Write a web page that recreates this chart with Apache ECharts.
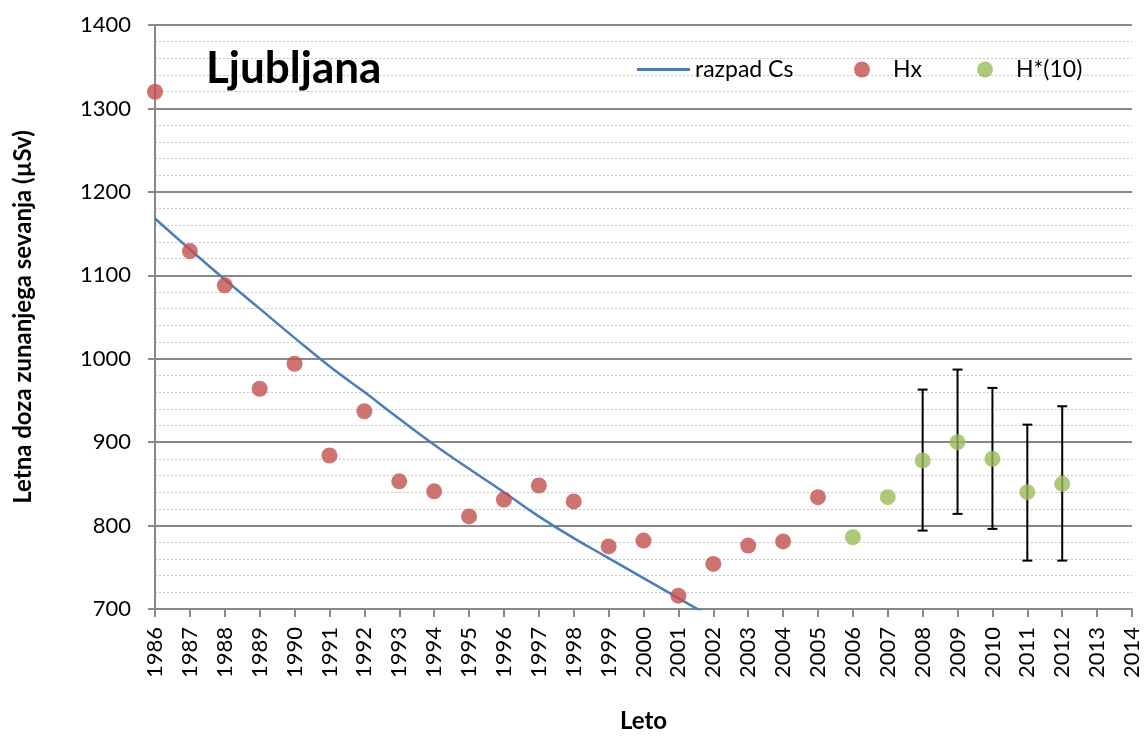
<!DOCTYPE html>
<html>
<head>
<meta charset="utf-8">
<script src="https://cdn.jsdelivr.net/npm/echarts@6/dist/echarts.min.js"></script>
<style>
  html, body { margin: 0; padding: 0; background: #fff; }
  #chart { width: 1145px; height: 738px; }
</style>
</head>
<body>
<div id="chart"></div>
<script>
// years for the decay line (razpad Cs)
var cesYears = [1986, 1987, 1988, 1989, 1990, 1991, 1992, 1993, 1994, 1995, 1996, 1997, 1998, 1999, 2000, 2001, 2002];
var cesValues = [1168, 1131, 1095, 1060, 1025, 991, 960, 928, 897, 868, 840, 811, 785, 761, 737, 713, 689];

// Hx (red points)
var hxYears = [1986, 1987, 1988, 1989, 1990, 1991, 1992, 1993, 1994, 1995, 1996, 1997, 1998, 1999, 2000, 2001, 2002, 2003, 2004, 2005];
var hxValues = [1320, 1129, 1088, 964, 994, 884, 937, 853, 841, 811, 831, 848, 829, 775, 782, 716, 754, 776, 781, 834];

// H*(10) (green points)
var h10Years = [2006, 2007, 2008, 2009, 2010, 2011, 2012];
var h10Values = [786, 834, 878, 900, 880, 840, 850];

// error bars on H*(10)
var errYears = [2008, 2009, 2010, 2011, 2012];
var errLow = [794, 814, 796, 758, 758];
var errHigh = [963, 987, 965, 921, 943];

var font = 'Lato, "Open Sans", sans-serif';
var gridColor = '#888888';

function pairs(xs, ys) {
  var out = [];
  for (var i = 0; i < xs.length; i++) {
    out.push([xs[i], ys[i]]);
  }
  return out;
}

var errData = [];
for (var i = 0; i < errYears.length; i++) {
  errData.push([errYears[i], errLow[i], errHigh[i]]);
}

var chart = echarts.init(document.getElementById('chart'));

var legendText = { fontFamily: font, fontSize: 23, color: '#000' };

var option = {
  backgroundColor: '#ffffff',
  animation: false,
  textStyle: { fontFamily: font },
  title: {
    text: 'Ljubljana',
    left: 206,
    top: 47,
    padding: 0,
    textStyle: { fontFamily: font, fontSize: 44, fontWeight: 'bold', color: '#000' }
  },
  legend: [{
    data: ['razpad Cs'],
    left: 637,
    top: 58,
    padding: 0,
    icon: 'rect',
    itemWidth: 53,
    itemHeight: 3,
    textStyle: legendText
  }, {
    data: ['Hx'],
    left: 854,
    top: 58,
    padding: 0,
    icon: 'circle',
    itemWidth: 16,
    itemHeight: 16,
    textStyle: Object.assign({ padding: [0, 0, 0, 18] }, legendText)
  }, {
    data: ['H*(10)'],
    left: 977,
    top: 58,
    padding: 0,
    icon: 'circle',
    itemWidth: 16,
    itemHeight: 16,
    textStyle: Object.assign({ padding: [0, 0, 0, 18] }, legendText)
  }],
  grid: {
    left: 155,
    right: 13,
    top: 25,
    bottom: 127
  },
  xAxis: {
    type: 'value',
    min: 1986,
    max: 2014,
    interval: 1,
    name: 'Leto',
    nameLocation: 'middle',
    nameGap: 100,
    nameTextStyle: { fontFamily: font, fontSize: 24, fontWeight: 'bold', color: '#000' },
    axisLine: { lineStyle: { color: gridColor, width: 2 } },
    axisTick: { show: true, length: 8, lineStyle: { color: gridColor, width: 2 } },
    axisLabel: {
      rotate: 90,
      fontFamily: font,
      fontSize: 22,
      color: '#000',
      margin: 18,
      formatter: function (v) { return String(v); }
    },
    splitLine: { show: false }
  },
  yAxis: {
    type: 'value',
    min: 700,
    max: 1400,
    interval: 100,
    name: 'Letna doza zunanjega sevanja (µSv)',
    nameLocation: 'middle',
    nameGap: 120,
    nameTextStyle: { fontFamily: font, fontSize: 24, fontWeight: 'bold', color: '#000' },
    axisLine: { show: true, lineStyle: { color: gridColor, width: 2 } },
    axisTick: { show: true, length: 7, lineStyle: { color: gridColor, width: 2 } },
    axisLabel: {
      fontFamily: font,
      fontSize: 22,
      color: '#000',
      margin: 24,
      formatter: function (v) { return String(v); }
    },
    splitLine: { show: true, lineStyle: { color: gridColor, width: 2 } },
    minorTick: { show: false, splitNumber: 5 },
    minorSplitLine: { show: true, lineStyle: { color: '#c4c4c4', width: 1, type: [2, 2] } }
  },
  series: [{
    name: 'razpad Cs',
    type: 'line',
    data: pairs(cesYears, cesValues),
    symbol: 'none',
    smooth: true,
    clip: true,
    color: '#4a7ebb',
    lineStyle: { color: '#4a7ebb', width: 2.5 },
    z: 2
  }, {
    name: 'errors',
    type: 'custom',
    data: errData,
    z: 3,
    renderItem: function (params, api) {
      var x = api.value(0);
      var lo = api.coord([x, api.value(1)]);
      var hi = api.coord([x, api.value(2)]);
      var cap = 5;
      var style = { stroke: '#000', lineWidth: 2 };
      return {
        type: 'group',
        children: [
          { type: 'line', shape: { x1: lo[0], y1: lo[1], x2: hi[0], y2: hi[1] }, style: style },
          { type: 'line', shape: { x1: hi[0] - cap, y1: hi[1], x2: hi[0] + cap, y2: hi[1] }, style: style },
          { type: 'line', shape: { x1: lo[0] - cap, y1: lo[1], x2: lo[0] + cap, y2: lo[1] }, style: style }
        ]
      };
    }
  }, {
    name: 'Hx',
    type: 'scatter',
    data: pairs(hxYears, hxValues),
    symbol: 'circle',
    symbolSize: 16,
    color: '#c0504d',
    itemStyle: { color: '#c0504d' },
    z: 4
  }, {
    name: 'H*(10)',
    type: 'scatter',
    data: pairs(h10Years, h10Values),
    symbol: 'circle',
    symbolSize: 16,
    color: '#9bbb59',
    itemStyle: { color: '#9bbb59' },
    z: 4
  }]
};

chart.setOption(option);
</script>
</body>
</html>
